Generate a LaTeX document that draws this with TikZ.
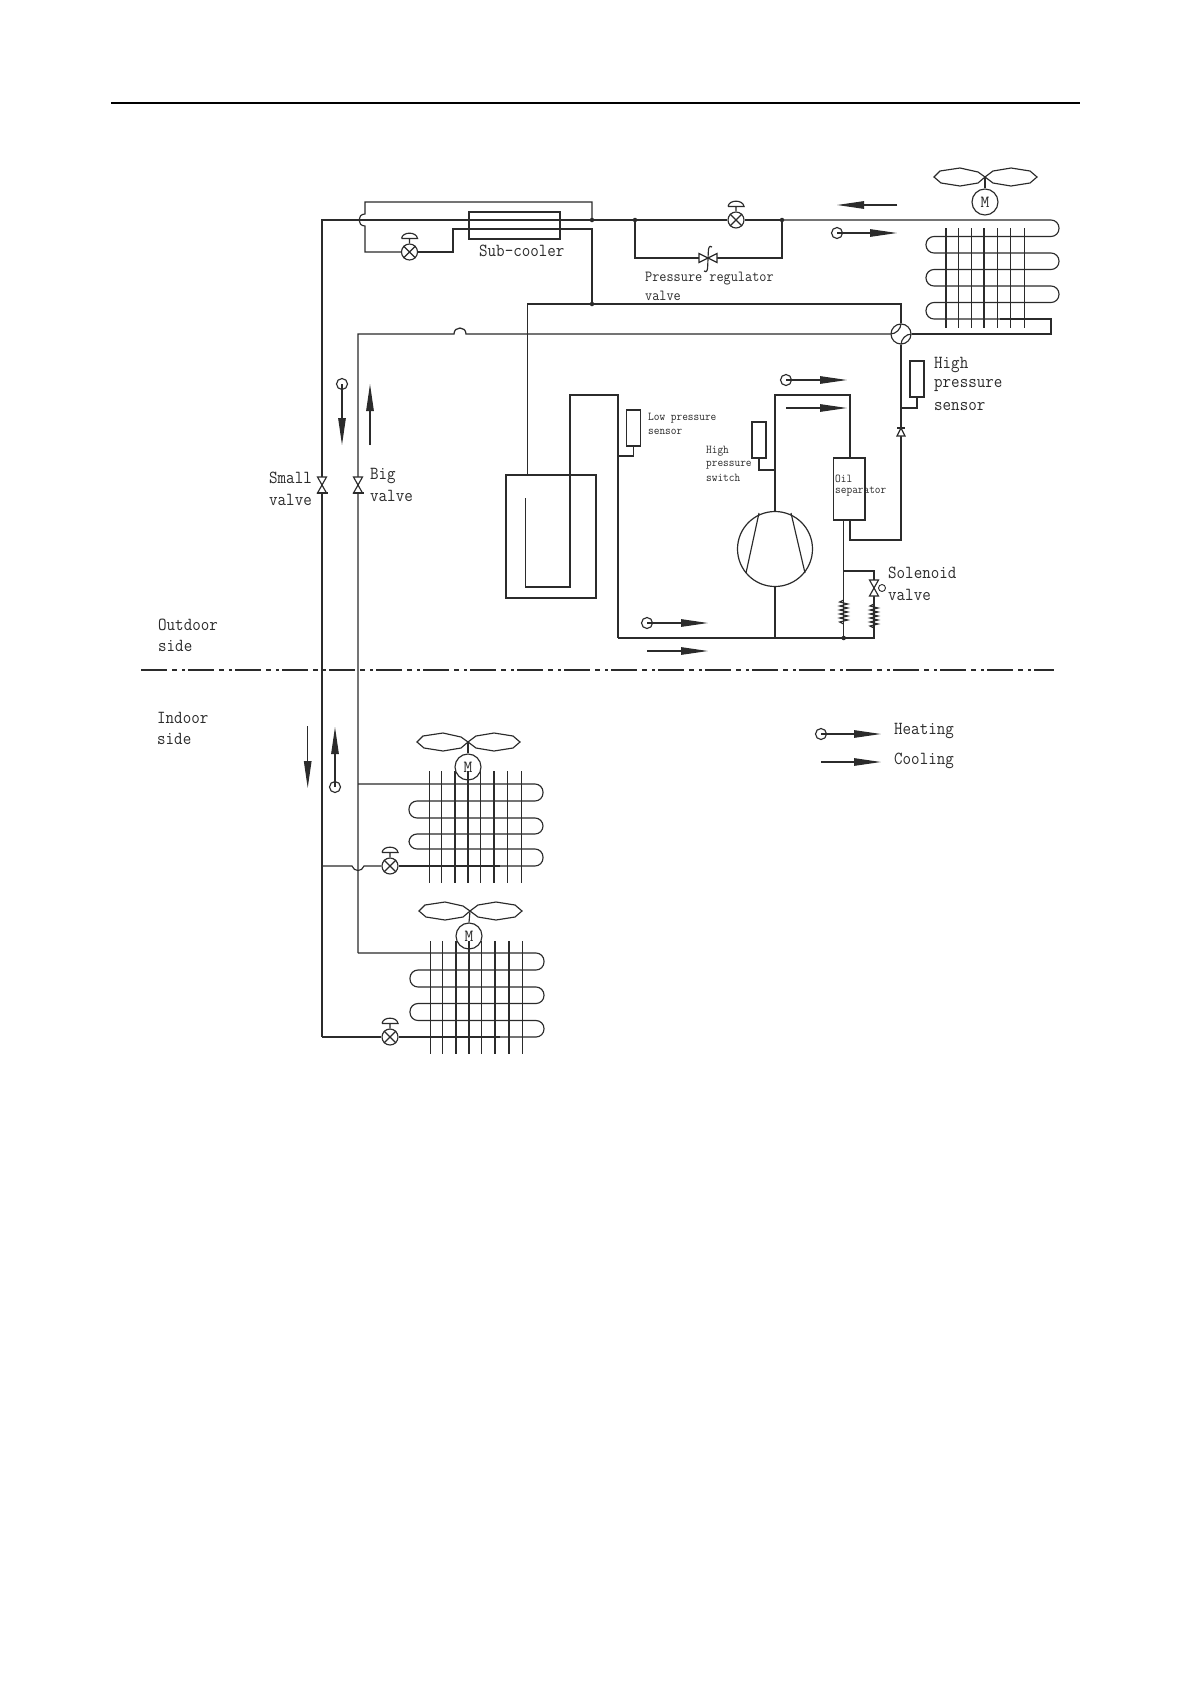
\documentclass[tikz,border=0pt]{standalone}
\usetikzlibrary{arrows.meta,calc}
\definecolor{ink}{gray}{0.17}
\tikzset{
  pipe/.style={draw=ink,line width=1.25pt},
  thin pipe/.style={draw=ink,line width=1.15pt},
  dot/.style={circle,fill=ink,inner sep=0pt,minimum size=4.5pt},
  vlv/.style={circle,draw=ink,line width=1.15pt,fill=white,inner sep=0pt,minimum size=16pt},
  marker/.style={circle,draw=ink,line width=1.15pt,fill=none,inner sep=0pt,minimum size=11pt},
  motor/.style={circle,draw=ink,line width=1.15pt,fill=none,inner sep=0pt,minimum size=26pt,font=\ttfamily\fontsize{17}{17}\selectfont,text=ink},
  sensor/.style={rectangle,draw=ink,line width=1.15pt,inner sep=0pt,minimum width=14pt,minimum height=36pt},
  flow/.style={draw=ink,line width=1.15pt,-{Triangle[length=27pt,width=7.5pt]},fill=black},
  lab/.style={anchor=west,inner sep=0pt,text=ink,yshift=-1.5pt,transform shape,xscale=0.9,font=\ttfamily\fontsize{18.4}{18.4}\selectfont},
  mid/.style={anchor=west,inner sep=0pt,text=ink,yshift=-1.5pt,transform shape,xscale=0.9,font=\ttfamily\fontsize{15.4}{15.4}\selectfont},
  tiny/.style={anchor=west,inner sep=0pt,text=ink,yshift=-1pt,transform shape,xscale=0.92,font=\ttfamily\fontsize{12}{12}\selectfont},
  fanblades/.pic={
    \draw[thin pipe] (0,0) -- (-7,-5) -- (-25,-9) -- (-45,-6) -- (-51,0) -- (-44,6) -- (-25,9) -- (-7,6) -- cycle;
    \draw[thin pipe] (0,0) -- (8,-6) -- (26,-9) -- (45,-6) -- (52,0) -- (45,6) -- (26,9) -- (8,6) -- cycle;
  },
  svalve/.pic={
    \draw[thin pipe,fill=white] (-4.5,-8) -- (4.5,-8) -- (-4.5,8) -- (4.5,8) -- cycle;
    \draw[line width=1.4pt,draw=ink] (-5.5,8) -- (5.5,8);
  },
  solvalve/.pic={
    \draw[thin pipe,fill=white] (-4.5,-8) -- (4.5,-8) -- (-4.5,8) -- (4.5,8) -- cycle;
  },
  check/.pic={
    \draw[thin pipe,fill=white] (-4,4) -- (4,4) -- (0,-4) -- cycle;
    \draw[thin pipe] (-4,-4) -- (4,-4);
  },
  spring/.pic={
    \draw[thin pipe] (0,-12) -- (-4,-10) -- (4,-8) -- (-4,-6) -- (4,-4) -- (-4,-2) -- (4,0) -- (-4,2) -- (4,4) -- (-4,6) -- (4,8) -- (-4,10) -- (0,12);
  }
}
\newcommand\expvalve[2]{%
  \node[vlv] (#1) at (#2) {};
  \draw[thin pipe] (#1.45) -- (#1.225) (#1.135) -- (#1.315);
  \draw[thin pipe] (#1.north) -- ++(0,-5) ++(-8,0) -- ++(16,0) .. controls +(-1,-7) and +(1,-7) .. ++(-16,0);
}
\begin{document}
\begin{tikzpicture}[x=1pt,y=-1pt]
\useasboundingbox (0,0) rectangle (1190,1684);
\fill[white] (0,0) rectangle (1190,1684);
% page rule
\coordinate (ruleL) at (111,103);
\coordinate (ruleR) at (1080,103);
\draw[draw=black,line width=1.6pt] (ruleL) -- (ruleR);
% boundary
\coordinate (sepL) at (141,670);
\coordinate (sepR) at (1054,670);
\draw[draw=ink,line width=1.1pt,dash pattern=on 26pt off 5pt on 5pt off 5pt on 3pt off 3pt] (sepL) -- (sepR);

% junctions
\coordinate (jA) at (592,220);
\node[dot] (dA) at (jA) {};
\node[dot] (dB) at (635,220) {};
\node[dot] (dC) at (782,220) {};
\node[dot] (dD) at (592,304) {};
\node[dot] (dE) at (843.7,638) {};
\coordinate (tl) at (322,220);
\coordinate (bl) at (322,1037);

% four-way valve
\node[circle,draw=ink,line width=1.15pt,inner sep=0pt,minimum size=20pt] (fw) at (901,334) {};
\draw[thin pipe] (fw.west) .. controls (896,334) and (901,329) .. (fw.north);
\draw[thin pipe] (fw.south) .. controls (901,339) and (906,334) .. (fw.east);

% small (liquid) line and subcooler loop
\expvalve{vA}{409.5,252}
\expvalve{vB}{736,220}
\node[draw=ink,line width=1.2pt,inner sep=0pt,minimum width=91pt,minimum height=27pt] (sc) at (514.5,225.5) {};
\draw[pipe] (vB.west) -- (dB.center) -- (dA.center) -- (tl) -- (bl);
\draw[pipe] (vB.east) -- (dC.center);
\draw[thin pipe] (dA.center) -- (592,202) -- (365,202) -- (365,214) .. controls (357,214) and (357,226) .. (365,226) -- (365,252) -- (vA.west);
\draw[thin pipe] (vA.east) -- (453,252) -- (453,229) -- (592,229) -- (dD.center);

% pressure regulator bypass
\coordinate (rv) at (708,258);
\draw[thin pipe] (dB.center) -- (635,258) -- (rv) -- (782,258) -- (dC.center);
\draw[thin pipe,fill=white] (699,253.5) -- (699,262.5) -- (717,253.5) -- (717,262.5) -- cycle;
\draw[thin pipe] (712,247) .. controls (709,245) and (708.5,248) .. (708.3,252) -- (707.7,266) .. controls (707.5,270) and (707,273) .. (704,271);

% top-right coil
\draw[thin pipe,rounded corners=8pt] (dC.center) -- (1059,220) -- (1059,236.5) -- (926,236.5) -- (926,253) -- (1059,253) -- (1059,269.5) -- (926,269.5) -- (926,286) -- (1059,286) -- (1059,302.5) -- (926,302.5) -- (926,319) -- (1000,319);
\draw[thin pipe] (1000,319) -- (1051,319) -- (1051,334) -- (fw.east);
\foreach \x in {946,958.7,971.7,984,997.3,1010.7,1024.7} \draw[pipe] (\x,228) -- (\x,328);
\node[motor] (mA) at (985,202) {M};
\coordinate (hA) at (985,177);
\pic at (hA) {fanblades};
\draw[thin pipe] (hA) -- (mA.north);

% gas lines
\draw[thin pipe] (dD.center) -- (901,304) -- (fw.north);
\coordinate (acIn) at (527.7,475);
\draw[thin pipe] (dD.center) -- (527.7,304) -- (acIn);
\draw[pipe] (fw.west) -- (466,334) .. controls (466,326) and (454,326) .. (454,334) -- (358,334) -- (358,953);

% accumulator
\node[draw=ink,line width=1.2pt,inner sep=0pt,minimum width=90pt,minimum height=123pt] (acc) at (551,536.5) {};
\coordinate (suct) at (618,638);
\draw[thin pipe] (525.7,498) -- (525.7,587) -- (570,587) -- (570,395) -- (618,395) -- (suct);

% compressor
\node[circle,draw=ink,line width=1.2pt,inner sep=0pt,minimum size=75pt] (comp) at (775,549) {};
\draw[thin pipe] (759,513) -- (746,573) (791,513) -- (805,573);
\draw[pipe] (suct) -- (dE.center) -- (874,638) -- (874,571) -- (843.7,571);
\draw[thin pipe] (comp.south) -- (775,638);
\node[draw=ink,line width=1.2pt,inner sep=0pt,minimum width=31.3pt,minimum height=62pt] (oil) at (849.3,489) {};
\draw[pipe] (comp.north) -- (775,395) -- (850,395) -- (850,458);
\draw[pipe] (843.7,520) -- (dE.center);
\draw[pipe] (850,520) -- (850,540) -- (901,540) -- (fw.south);

% sensors
\node[sensor] (hps) at (917,379) {};
\draw[thin pipe] (hps.south) -- (917,408) -- (901,408);
\node[sensor] (lps) at (633.5,428) {};
\draw[thin pipe] (lps.south) -- (633.5,456) -- (618,456);
\node[sensor] (hsw) at (759,440) {};
\draw[thin pipe] (hsw.south) -- (759,470) -- (775,470);

% inline fittings
\pic at (901,432) {check};
\pic at (843.7,612) {spring};
\pic at (874,616) {spring};
\pic at (874,588) {solvalve};
\node[circle,draw=ink,line width=0.9pt,inner sep=0pt,minimum size=7pt] (solc) at (882,588) {};
\pic at (322,485) {svalve};
\pic at (358,485) {svalve};

% flow arrows
\node[marker] (f1) at (837,233) {};
\coordinate (f1e) at (897,233);
\draw[flow] (f1.center) -- (f1e);
\coordinate (f2s) at (897,205);
\coordinate (f2e) at (837,205);
\draw[flow] (f2s) -- (f2e);
\node[marker] (f3) at (786,380) {};
\coordinate (f3e) at (847,380);
\draw[flow] (f3.center) -- (f3e);
\coordinate (f4s) at (786,408);
\coordinate (f4e) at (847,408);
\draw[flow] (f4s) -- (f4e);
\node[marker] (f5) at (647,623) {};
\coordinate (f5e) at (708,623);
\draw[flow] (f5.center) -- (f5e);
\coordinate (f6s) at (647,651);
\coordinate (f6e) at (708,651);
\draw[flow] (f6s) -- (f6e);
\node[marker] (f7) at (342,384) {};
\coordinate (f7e) at (342,445);
\draw[flow] (f7.center) -- (f7e);
\coordinate (f8s) at (370,445);
\coordinate (f8e) at (370,384);
\draw[flow] (f8s) -- (f8e);
\coordinate (f9s) at (307.7,726);
\coordinate (f9e) at (307.7,788);
\draw[flow] (f9s) -- (f9e);
\node[marker] (f10) at (335,787) {};
\coordinate (f10e) at (335,727);
\draw[flow] (f10.center) -- (f10e);
\node[marker] (lg1) at (821,734) {};
\coordinate (lg1e) at (881,734);
\draw[flow] (lg1.center) -- (lg1e);
\coordinate (lg2s) at (821,762);
\coordinate (lg2e) at (881,762);
\draw[flow] (lg2s) -- (lg2e);

% indoor unit 1
\expvalve{vC}{390,866}
\coordinate (jB1) at (358,784);
\draw[thin pipe,rounded corners=8pt] (jB1) -- (543,784) -- (543,801) -- (409,801) -- (409,818) -- (543,818) -- (543,834) -- (409,834) -- (409,849) -- (543,849) -- (543,866) -- (500,866);
\draw[thin pipe] (500,866) -- (vC.east);
\coordinate (jS1) at (322,866);
\draw[thin pipe] (jS1) -- (352,866) .. controls (354,872) and (362,872) .. (364,866) -- (vC.west);
\foreach \x in {429.3,441.7,455,468,480.3,494,507.7,521.3} \draw[pipe] (\x,771) -- (\x,883);
\node[motor] (mB) at (468,767) {M};
\coordinate (hB) at (468,742);
\pic at (hB) {fanblades};
\draw[thin pipe] (hB) -- (mB.north);

% indoor unit 2
\expvalve{vD}{390,1037}
\coordinate (jB2) at (358,953);
\draw[thin pipe,rounded corners=8pt] (jB2) -- (544,953) -- (544,970) -- (410,970) -- (410,987) -- (544,987) -- (544,1003.5) -- (410,1003.5) -- (410,1020.5) -- (544,1020.5) -- (544,1037) -- (500,1037);
\draw[thin pipe] (500,1037) -- (vD.east);
\draw[pipe] (bl) -- (vD.west);
\foreach \x in {430.7,442.7,456,469,481.3,495,509,522.3} \draw[pipe] (\x,941) -- (\x,1054);
\node[motor] (mC) at (469,936) {M};
\coordinate (hC) at (470,911);
\pic at (hC) {fanblades};
\draw[thin pipe] (hC) -- (mC.north);

% labels
\node[lab] (tSub) at (479,249) {Sub-cooler};
\node[mid] (tPr1) at (645,277) {Pressure regulator};
\node[mid] (tPr2) at (645,294) {valve};
\node[lab] (tHi1) at (934,363) {High};
\node[lab] (tHi2) at (934,384) {pressure};
\node[lab] (tHi3) at (934,405) {sensor};
\node[tiny] (tLo1) at (648,417) {Low pressure};
\node[tiny] (tLo2) at (648,431) {sensor};
\node[tiny] (tSw1) at (706,450) {High};
\node[tiny] (tSw2) at (706,464) {pressure};
\node[tiny] (tSw3) at (706,477) {switch};
\node[tiny] (tOil1) at (835,478) {Oil};
\node[tiny] (tOil2) at (835,491) {separator};
\node[lab] (tSo1) at (888,571) {Solenoid};
\node[lab] (tSo2) at (888,593) {valve};
\node[lab] (tSm1) at (269,476) {Small};
\node[lab] (tSm2) at (269,498) {valve};
\node[lab] (tBg1) at (370,474) {Big};
\node[lab] (tBg2) at (370,494) {valve};
\node[lab] (tOut1) at (158,623) {Outdoor};
\node[lab] (tOut2) at (158,644) {side};
\node[lab] (tIn1) at (157,716) {Indoor};
\node[lab] (tIn2) at (157,737) {side};
\node[lab] (tHeat) at (894,729) {Heating};
\node[lab] (tCool) at (894,759) {Cooling};
\end{tikzpicture}
\end{document}
